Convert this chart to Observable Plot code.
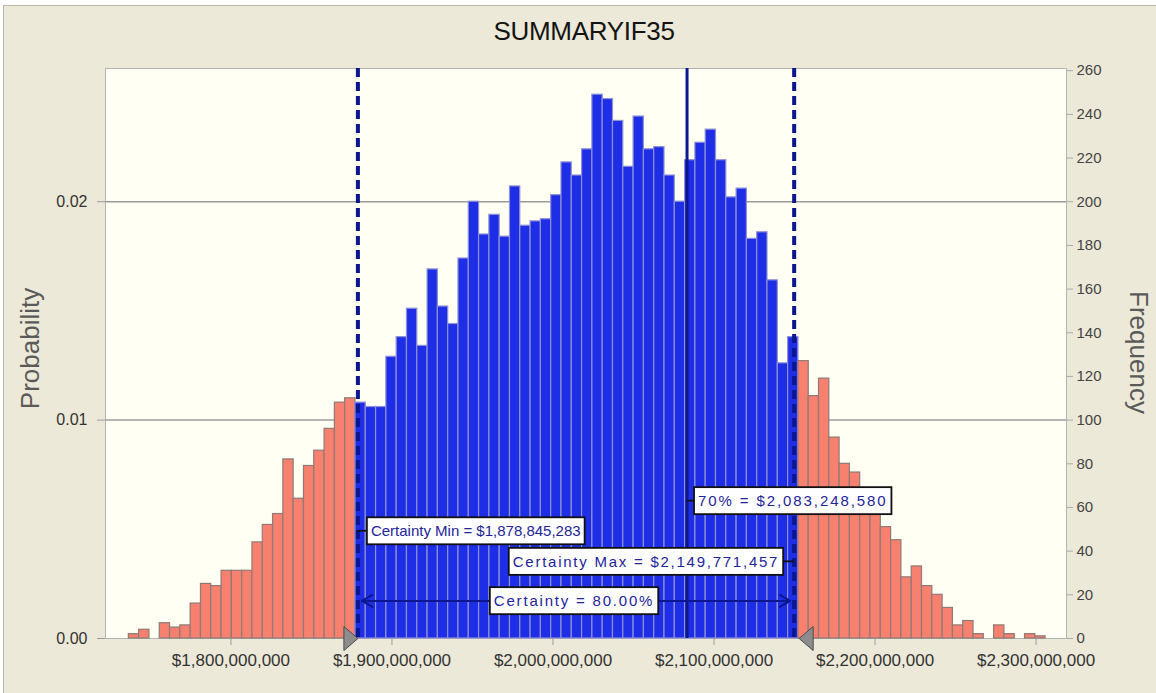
<!DOCTYPE html>
<html>
<head>
<meta charset="utf-8">
<script src="https://cdn.jsdelivr.net/npm/d3@7"></script>
<script src="https://cdn.jsdelivr.net/npm/@observablehq/plot@0.6"></script>
<style>
  html, body { margin: 0; padding: 0; background: #ffffff; }
  #wrap { position: relative; width: 1156px; height: 693px; overflow: hidden; background: #ffffff; }
  #panel { position: absolute; left: 3px; top: 5px; width: 1153px; height: 688px; background: #ECE9D8; border-top: 1px solid #b9b6aa; border-left: 1px solid #b9b6aa; box-sizing: border-box; }
  #title { position: absolute; left: 6px; top: 16px; width: 1156px; text-align: center; font: 26px/30px "Liberation Sans", Arial, sans-serif; color: #141414; letter-spacing: -0.3px; }
  #chart { position: absolute; left: 0; top: 0; }
</style>
</head>
<body>
<div id="wrap">
  <div id="panel"></div>
  <div id="chart"></div>
  <div id="title">SUMMARYIF35</div>
</div>
<script>
// ---- data ----
const trials = 10000;
const binStart = 1736.6e6;      // left edge of first bin ($)
const binWidth = 6.397e6;       // bin width ($)
const leftTail = [2, 4, 0, 7, 5, 6, 16, 25, 24, 31, 31, 31, 44, 52, 57, 82, 64, 79, 86, 96, 108, 110];
const certainBins = [108, 106, 106, 129, 138, 151, 134, 169, 152, 144, 174, 200, 185, 194, 184, 207, 189, 191, 192, 203,
  218, 212, 224, 249, 247, 237, 216, 239, 224, 225, 212, 200, 219, 227, 233, 219, 202, 206, 183, 186, 164, 126, 138];
const rightTail = [127, 111, 119, 92, 80, 76, 67, 60, 51, 45, 28, 33, 24, 20, 14, 6, 8, 2, 0, 6, 2, 0, 2, 1];
const certaintyMin = 1878845283;
const certaintyMax = 2149771457;
const percentile70 = 2083248580;
const certaintyPct = 80.00;
const xTicks = [1.8e9, 1.9e9, 2.0e9, 2.1e9, 2.2e9, 2.3e9];
const probTicks = [0, 0.01, 0.02];
const freqTicks = [0, 20, 40, 60, 80, 100, 120, 140, 160, 180, 200, 220, 240, 260];

// ---- derived tables ----
const counts = [...leftTail, ...certainBins, ...rightTail];
const bins = counts.map((c, i) => ({
  x0: binStart + i * binWidth,
  x1: binStart + (i + 1) * binWidth,
  count: c,
  inside: i >= leftTail.length && i < leftTail.length + certainBins.length
})).filter(d => d.count > 0);

const money = d3.format("$,");
const mid = (certaintyMin + certaintyMax) / 2;
const annotations = [
  {label: `Certainty Min = ${money(certaintyMin)}`, x: certaintyMin, lead: certaintyMin},
  {label: `Certainty Max = ${money(certaintyMax)}`, x: certaintyMax, lead: certaintyMax},
  {label: `70% = ${money(percentile70)}`, x: percentile70, lead: percentile70},
  {label: `Certainty = ${certaintyPct.toFixed(2)}%`, x: mid, lead: null}
];
const annSpacing = [0, 1.75, 1.9, 1.8];

const BLUE = "#1d2ee6", SALMON = "#f8806f", NAVY = "#0b168f";
const tri = (dir) => ({draw(ctx) { ctx.moveTo(-7 * dir, -12); ctx.lineTo(7 * dir, 0); ctx.lineTo(-7 * dir, 12); ctx.closePath(); }});

const annText = (a, y, anchor, dx) => Plot.text([a], {
  x: "x", y: () => y, text: "label", textAnchor: anchor, dx,
  fill: "#24249a", fontSize: 15, ariaDescription: "annotation"
});

const chart = Plot.plot({
  width: 1156,
  height: 693,
  marginLeft: 105,
  marginRight: 90,
  marginTop: 68,
  marginBottom: 55,
  style: {background: "transparent", fontFamily: "'Liberation Sans', Arial, sans-serif"},
  x: {domain: [1722.1e6, 2318.9e6], axis: null},
  y: {domain: [0, 261], axis: null},
  marks: [
    Plot.frame({fill: "#fffff3", stroke: "#b4b4b4"}),
    Plot.ruleY(probTicks.filter(p => p > 0).map(p => p * trials), {stroke: "#9c9c9c", strokeWidth: 1.5}),
    Plot.rectY(bins, {
      x1: "x0", x2: "x1", y: "count",
      fill: d => d.inside ? BLUE : SALMON,
      stroke: d => d.inside ? "#8f90d6" : "#8e7a76",
      strokeWidth: 1.2
    }),
    Plot.ruleX([certaintyMin, certaintyMax], {stroke: NAVY, strokeWidth: 4, strokeDasharray: "9,5"}),
    Plot.ruleX([percentile70], {stroke: NAVY, strokeWidth: 3}),
    Plot.arrow([certaintyMin, certaintyMax], {
      x1: () => mid, y1: () => 17.2, x2: d => d, y2: () => 17.2,
      stroke: NAVY, strokeWidth: 2, headLength: 9, insetEnd: 4
    }),
    annText(annotations[0], 49, "start", 13),
    annText(annotations[1], 35, "end", -15),
    annText(annotations[2], 62.8, "start", 11),
    annText(annotations[3], 17, "middle", -2),
    Plot.dot([certaintyMin], {x: d => d, y: () => 0, symbol: tri(1), fill: "#8d8d8d", stroke: "#4a4a4a", strokeWidth: 1, dx: -7}),
    Plot.dot([certaintyMax], {x: d => d, y: () => 0, symbol: tri(-1), fill: "#8d8d8d", stroke: "#4a4a4a", strokeWidth: 1, dx: 12}),
    Plot.axisY(probTicks.map(p => p * trials), {
      anchor: "left", tickFormat: d => (d / trials).toFixed(2), tickSize: 8, tickPadding: 10,
      fontSize: 16, fill: "#333", stroke: "#9c9c9c", label: null
    }),
    Plot.axisY(freqTicks, {
      anchor: "right", tickSize: 6, tickPadding: 4, fontSize: 15, fill: "#444", stroke: "#aaaaaa", label: null
    }),
    Plot.axisX(xTicks, {
      anchor: "bottom", tickFormat: money, tickSize: 7, tickPadding: 8, fontSize: 17, fill: "#333", stroke: "#9c9c9c", label: null
    }),
    Plot.text(["Probability"], {text: d => d, frameAnchor: "left", textAnchor: "middle", dx: -75, dy: -5, rotate: -90, fontSize: 26, fill: "#5a5a5a"}),
    Plot.text(["Frequency"], {text: d => d, frameAnchor: "right", textAnchor: "middle", dx: 72, dy: -1, rotate: 90, fontSize: 26, fill: "#5a5a5a"})
  ]
});

document.getElementById("chart").appendChild(chart);

// ---- white boxes and leader lines behind the annotation texts ----
const ns = "http://www.w3.org/2000/svg";
const xs = chart.scale("x");
const annGs = Array.from(chart.querySelectorAll('g[aria-description="annotation"]'));
if (annGs.length) {
  const boxG = document.createElementNS(ns, "g");
  annGs[0].parentNode.insertBefore(boxG, annGs[0]);
  const sr = chart.getBoundingClientRect();
  annGs.forEach((g, i) => {
    const t = g.querySelector("text");
    if (!t) return;
    if (annSpacing[i]) t.setAttribute("letter-spacing", annSpacing[i]);
    const r = t.getBoundingClientRect();
    const padX = 4, padY = 5;
    const bx = r.left - sr.left - padX, by = r.top - sr.top - padY;
    const bw = r.width + 2 * padX, bh = r.height + 2 * padY;
    const rect = document.createElementNS(ns, "rect");
    rect.setAttribute("x", bx); rect.setAttribute("y", by);
    rect.setAttribute("width", bw); rect.setAttribute("height", bh);
    rect.setAttribute("fill", "#ffffff"); rect.setAttribute("stroke", "#111"); rect.setAttribute("stroke-width", 1.8);
    boxG.appendChild(rect);
    const a = annotations[i];
    if (a.lead != null) {
      const lx = xs.apply(a.lead);
      const edge = lx < bx ? bx : bx + bw;
      const ln = document.createElementNS(ns, "line");
      ln.setAttribute("x1", lx); ln.setAttribute("x2", edge);
      ln.setAttribute("y1", by + bh / 2); ln.setAttribute("y2", by + bh / 2);
      ln.setAttribute("stroke", "#111"); ln.setAttribute("stroke-width", 1.8);
      boxG.appendChild(ln);
    }
  });
}
</script>
</body>
</html>
